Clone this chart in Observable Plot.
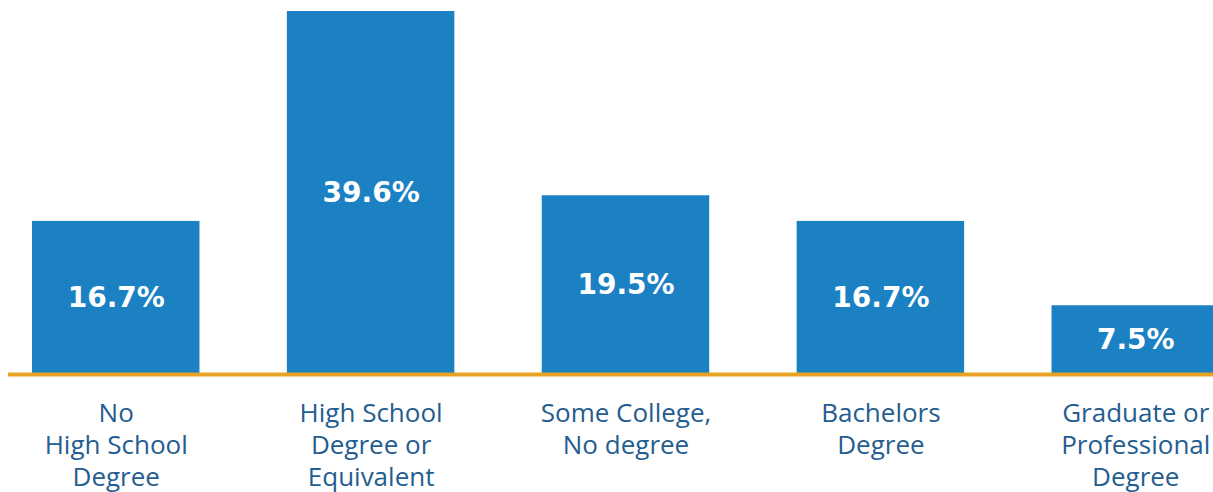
<!DOCTYPE html>
<html>
<head>
<meta charset="utf-8">
<script src="https://cdn.jsdelivr.net/npm/d3@7"></script>
<script src="https://cdn.jsdelivr.net/npm/@observablehq/plot@0.6"></script>
<style>
  html, body { margin: 0; padding: 0; background: #fff; }
  #chart svg { display: block; overflow: hidden; }
</style>
</head>
<body>
<div id="chart"></div>
<script>
const categories = [
  "No\nHigh School\nDegree",
  "High School\nDegree or\nEquivalent",
  "Some College,\nNo degree",
  "Bachelors\nDegree",
  "Graduate or\nProfessional\nDegree"
];
const values = [16.7, 39.6, 19.5, 16.7, 7.5];
const valueLabels = ["16.7%", "39.6%", "19.5%", "16.7%", "7.5%"];

const data = categories.map((c, i) => ({category: c, value: values[i], label: valueLabels[i]}));

const chart = Plot.plot({
  width: 1213,
  height: 492,
  marginLeft: 8,
  marginRight: 0,
  marginTop: 11,
  marginBottom: 118,
  x: {domain: categories, range: [32, 1219], paddingInner: 0.343, paddingOuter: 0, round: false, axis: null},
  y: {domain: [0, 39.6], axis: null},
  marks: [
    Plot.barY(data, {x: "category", y: "value", fill: "#1b81c3"}),
    Plot.ruleY([0], {stroke: "#e8a325", strokeWidth: 4}),
    Plot.text(data, {
      x: "category", y: d => d.value / 2, text: "label",
      fill: "white", fontWeight: "bold", fontSize: 28,
      fontFamily: "DejaVu Sans"
    }),
    Plot.text(data, {
      x: "category", y: 0, text: "category",
      dy: 25, lineAnchor: "top", lineHeight: 1.23,
      fill: "#245d90", fontSize: 26, fontFamily: "Open Sans"
    })
  ]
});
document.getElementById("chart").appendChild(chart);
</script>
</body>
</html>
